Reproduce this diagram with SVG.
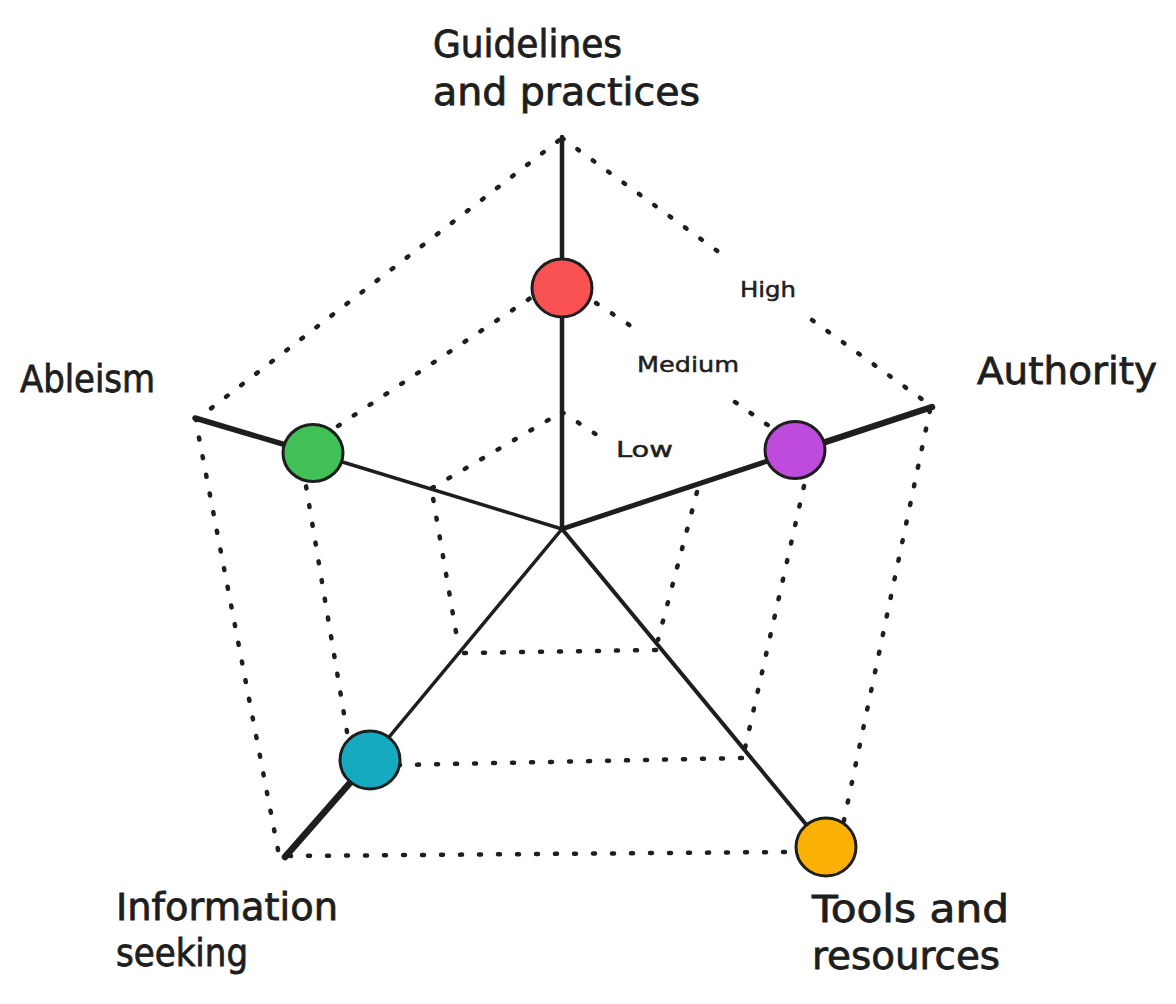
<svg xmlns="http://www.w3.org/2000/svg" width="1176" height="1004" viewBox="0 0 1176 1004">
<style>
  .dot { fill: none; stroke: #1e1e1e; stroke-width: 4.5; stroke-linecap: round; stroke-dasharray: 2 17; }
  .axis { fill: none; stroke: #1e1e1e; stroke-linecap: round; }
  .node { stroke: #1e1e1e; stroke-width: 3; }
  .lbl { font-family: "DejaVu Sans", "Liberation Sans", sans-serif; font-size: 37px; fill: #1e1e1e; stroke: #1e1e1e; stroke-width: 0.8; }
  .sm { font-family: "DejaVu Sans", "Liberation Sans", sans-serif; font-size: 22px; fill: #1e1e1e; stroke: #1e1e1e; stroke-width: 0.5; }
</style>
<rect width="1176" height="1004" fill="#ffffff"/>
<g id="connectors">
  <!-- High (outer) pentagon -->
  <path class="dot" d="M562,138 L727,258"/>
  <path class="dot" d="M812,320 L930,405"/>
  <path class="dot" d="M930,410 L843,825"/>
  <path class="dot" d="M785,852 L290,856"/>
  <path class="dot" d="M278,850 L196,422"/>
  <path class="dot" d="M196,420 L562,138"/>
  <!-- Medium pentagon -->
  <path class="dot" d="M596,303 L643,334"/>
  <path class="dot" d="M735,402 L772,428"/>
  <path class="dot" d="M804,486 L743,757"/>
  <path class="dot" d="M742,758 L400,765"/>
  <path class="dot" d="M347,732 L306,486"/>
  <path class="dot" d="M338,426 L532,297"/>
  <!-- Low pentagon -->
  <path class="dot" d="M562,412 L597,435"/>
  <path class="dot" d="M697,492 L658,640"/>
  <path class="dot" d="M656,650 L462,653"/>
  <path class="dot" d="M456,632 L432,492"/>
  <path class="dot" d="M432,488 L562,412"/>
  <!-- Axes -->
  <path class="axis" stroke-width="4.5" d="M562,529 L562,137"/>
  <path class="axis" stroke-width="5" d="M562,529 L795,452"/>
  <path class="axis" stroke-width="6.5" d="M795,452 L932,407"/>
  <path class="axis" stroke-width="3.5" d="M562,529 L313,453"/>
  <path class="axis" stroke-width="5.5" d="M313,453 L195,418"/>
  <path class="axis" stroke-width="3.5" d="M562,529 L370,760"/>
  <path class="axis" stroke-width="6.5" d="M370,760 L285,857"/>
  <path class="axis" stroke-width="4" d="M562,529 L814,834"/>
</g>
<g id="node-guidelines">
  <ellipse class="node" cx="562" cy="288" rx="30" ry="29" fill="#fa5252"/>
</g>
<g id="node-authority">
  <ellipse class="node" cx="795" cy="450" rx="30" ry="28.5" fill="#be4bdb"/>
</g>
<g id="node-ableism">
  <ellipse class="node" cx="313" cy="453" rx="30" ry="28.5" fill="#40c057"/>
</g>
<g id="node-information">
  <ellipse class="node" cx="370" cy="760" rx="30" ry="29" fill="#15aabf"/>
</g>
<g id="node-tools">
  <ellipse class="node" cx="826" cy="847" rx="30" ry="29" fill="#fab005"/>
</g>
<g id="label-guidelines">
  <text class="lbl" x="433" y="57" textLength="189" lengthAdjust="spacingAndGlyphs">Guidelines</text>
  <text class="lbl" x="433" y="105" textLength="267" lengthAdjust="spacingAndGlyphs">and practices</text>
</g>
<g id="label-ableism">
  <text class="lbl" x="20" y="392" textLength="135" lengthAdjust="spacingAndGlyphs">Ableism</text>
</g>
<g id="label-authority">
  <text class="lbl" x="977" y="384" textLength="180" lengthAdjust="spacingAndGlyphs">Authority</text>
</g>
<g id="label-information">
  <text class="lbl" x="116" y="920" textLength="222" lengthAdjust="spacingAndGlyphs">Information</text>
  <text class="lbl" x="116" y="966" textLength="132" lengthAdjust="spacingAndGlyphs">seeking</text>
</g>
<g id="label-tools">
  <text class="lbl" x="812" y="922" textLength="197" lengthAdjust="spacingAndGlyphs">Tools and</text>
  <text class="lbl" x="812" y="969" textLength="188" lengthAdjust="spacingAndGlyphs">resources</text>
</g>
<g id="scale-labels">
  <text class="sm" x="740" y="297" textLength="56" lengthAdjust="spacingAndGlyphs">High</text>
  <text class="sm" x="637" y="372" textLength="102" lengthAdjust="spacingAndGlyphs">Medium</text>
  <text class="sm" x="616" y="457" textLength="57" lengthAdjust="spacingAndGlyphs">Low</text>
</g>
</svg>
